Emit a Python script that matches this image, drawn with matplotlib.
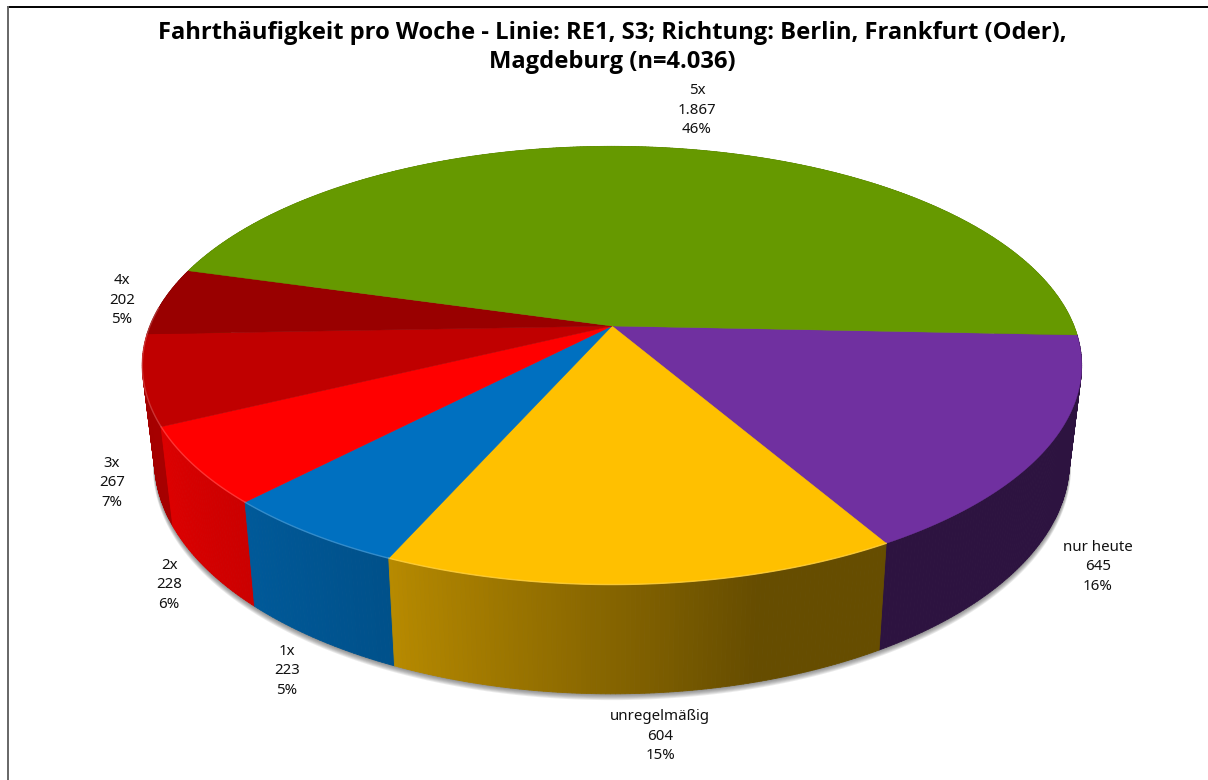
import numpy as np
import matplotlib
matplotlib.use("Agg")
import matplotlib.pyplot as plt
from matplotlib.collections import PolyCollection
from matplotlib.colors import to_rgb

# ---- data ----
categories = ["nur heute", "unregelmäßig", "1x", "2x", "3x", "4x", "5x"]
counts = [645, 604, 223, 228, 267, 202, 1867]
count_labels = ["645", "604", "223", "228", "267", "202", "1.867"]
percent_labels = ["16%", "15%", "5%", "6%", "7%", "5%", "46%"]
colors = ["#7030a0", "#ffc000", "#0070c0", "#ff0000", "#c00000", "#990000", "#669900"]
title_lines = ["Fahrthäufigkeit pro Woche - Linie: RE1, S3; Richtung: Berlin, Frankfurt (Oder),",
               "Magdeburg (n=4.036)"]

# ---- label anchor positions (pixels) ----
label_xy = [(1098, 567), (660, 736), (287, 671), (169, 585), (112, 483), (122, 300), (697, 110)]

# ---- view geometry (pixels) ----
W, H = 1208, 780
CX, CY = 612, 326
A, B, K = 462, 212, 0.18
START = 2.4
SX, DY, SY = 0.974, 93, 1.063
LIGHT_T = [0, 75, 114, 134, 154, 180, 360]
LIGHT_F = [0.40, 0.40, 0.72, 0.80, 0.87, 0.83, 0.83]


def top(theta):
    t = np.radians(theta)
    u, v = np.cos(t), np.sin(t)
    w = 1 - K * v
    return CX + A * u / w, CY + B * v / w


def bottom(theta):
    x, y = top(theta)
    return CX + SX * (x - CX), CY + DY + SY * (y - CY)


plt.rcParams["font.family"] = ["Noto Sans", "DejaVu Sans"]
fig = plt.figure(figsize=(W / 100, H / 100), dpi=100, facecolor="white")
ax = fig.add_axes([0, 0, 1, 1])
ax.set_xlim(0, W)
ax.set_ylim(H, 0)
ax.axis("off")

# frame
ax.plot([7, W], [6.5, 6.5], color="#000000", lw=1.4, solid_capstyle="butt")
ax.plot([7.5, 7.5], [6, H], color="#666666", lw=1.4, solid_capstyle="butt")

counts_arr = np.array(counts, dtype=float)
sweep = counts_arr / counts_arr.sum() * 360
edges = START + np.concatenate([[0], np.cumsum(sweep)])

# soft shadow below the body
full = np.linspace(0, 360, 721)
bx, by = bottom(full)
for i in range(7, 0, -1):
    sc = 1 + 0.0005 * i
    ax.fill(CX + sc * (bx - CX), by + i * 0.9, color="#444444", alpha=0.11, lw=0, zorder=1)

# side wall, far to near
quads, qcols = [], []
for s in range(len(counts)):
    n = max(int(sweep[s] * 2), 2)
    th = np.linspace(edges[s], edges[s + 1], n + 1)
    base = np.array(to_rgb(colors[s]))
    for a, b in zip(th[:-1], th[1:]):
        mid = 0.5 * (a + b)
        f = np.interp(mid, LIGHT_T, LIGHT_F)
        x0, y0 = top(a); x1, y1 = top(b)
        x2, y2 = bottom(b); x3, y3 = bottom(a)
        quads.append(((x0, y0), (x1, y1), (x2, y2), (x3, y3)))
        qcols.append((np.sin(np.radians(mid)), tuple(base * f)))
order = np.argsort([c[0] for c in qcols])
pc = PolyCollection([quads[i] for i in order],
                    facecolors=[qcols[i][1] for i in order],
                    edgecolors=[qcols[i][1] for i in order],
                    linewidths=0.6, zorder=2)
ax.add_collection(pc)

# top wedges
for s in range(len(counts)):
    th = np.linspace(edges[s], edges[s + 1], max(int(sweep[s] * 2), 2) + 1)
    x, y = top(th)
    ax.fill(np.r_[CX, x], np.r_[CY, y], color=colors[s], lw=0.3, zorder=3)
    # bright rim highlight
    base = np.array(to_rgb(colors[s]))
    hi = tuple(base + (1 - base) * 0.25)
    vis = th[(th >= 10) & (th <= 185)]
    if len(vis) > 1 and s != 0:
        xr, yr = top(vis)
        ax.plot(xr, yr, color=hi, lw=1.0, alpha=0.8, zorder=4)

# labels
label_font = dict(fontsize=10.8, ha="center", va="center", color="#111111",
                  linespacing=1.42, zorder=5)
for (lx, ly), c, n, p in zip(label_xy, categories, count_labels, percent_labels):
    ax.text(lx, ly, f"{c}\n{n}\n{p}", **label_font)

title_font = dict(fontsize=17.1, fontweight="bold", family="Open Sans", ha="center",
                  va="center", color="black", zorder=5)
for line, ty in zip(title_lines, (33, 62)):
    ax.text(612, ty, line, **title_font)

fig.savefig("out.png", dpi=100, facecolor="white")
